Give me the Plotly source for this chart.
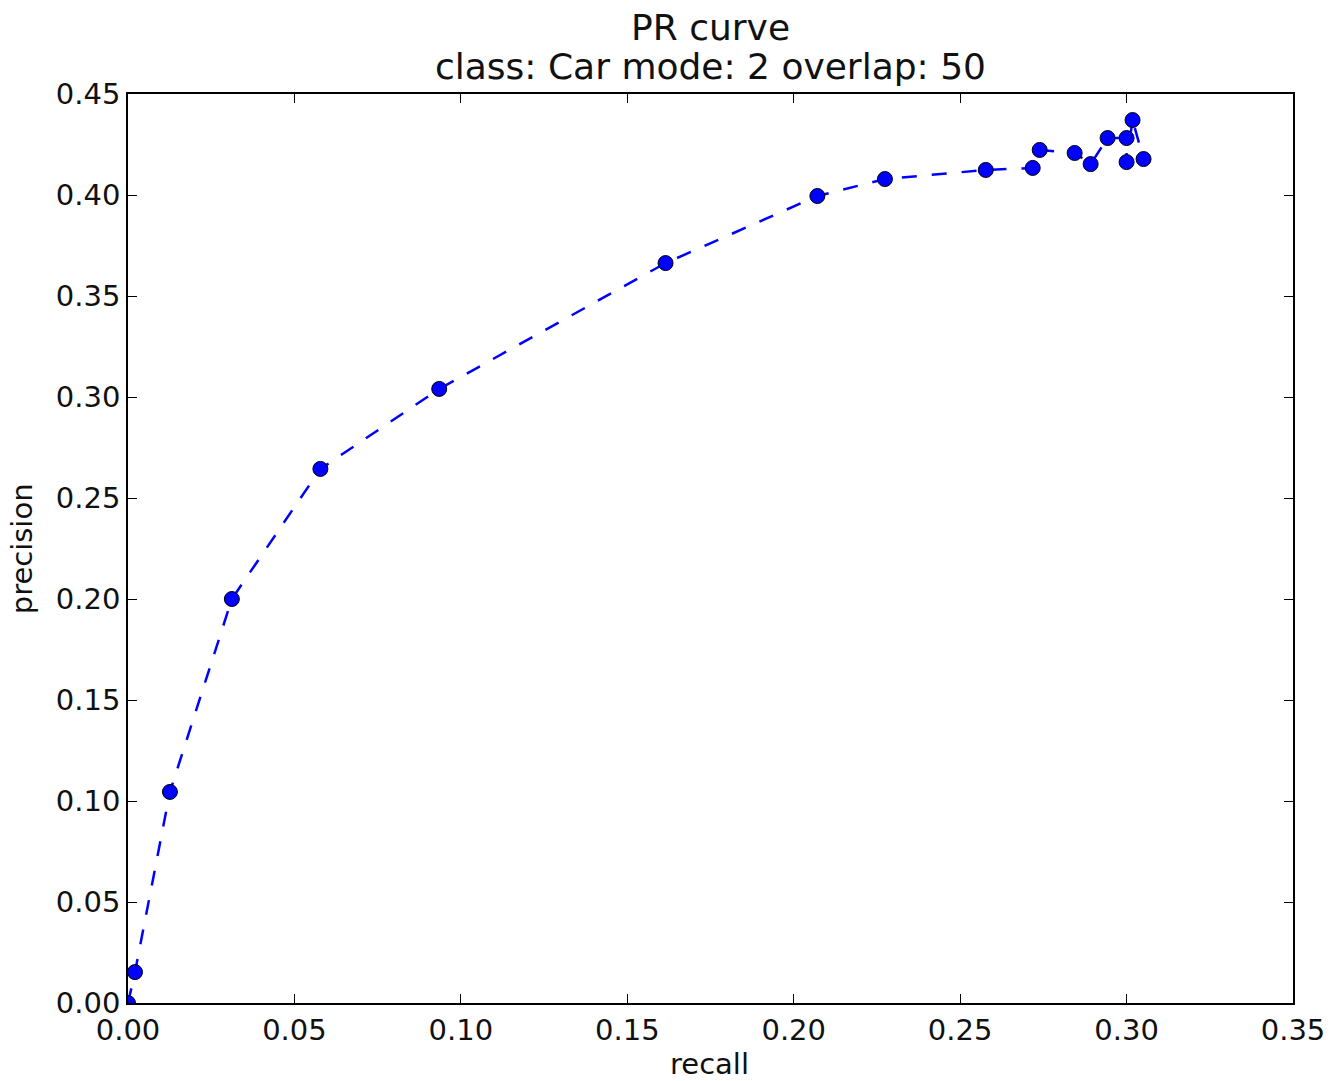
import plotly.graph_objects as go

recall = [0.0, 0.0021, 0.0126, 0.0312, 0.0578, 0.0935, 0.1615, 0.2071, 0.2274,
          0.2577, 0.2718, 0.2739, 0.2844, 0.2892, 0.2943, 0.3000, 0.3000, 0.3018, 0.3051]
precision = [0.0, 0.0153, 0.1045, 0.2000, 0.2644, 0.3040, 0.3663, 0.3995, 0.4079,
             0.4124, 0.4134, 0.4223, 0.4208, 0.4153, 0.4282, 0.4282, 0.4163, 0.4371, 0.4178]

x_ticks = [0.00, 0.05, 0.10, 0.15, 0.20, 0.25, 0.30, 0.35]
y_ticks = [0.00, 0.05, 0.10, 0.15, 0.20, 0.25, 0.30, 0.35, 0.40, 0.45]

FONT = "DejaVu Sans, Liberation Sans, sans-serif"

# plot area in page px: left 128, right 1296, top 94, bottom 1003
W, H = 1337, 1081
L, R, T, B = 128, 41, 94, 78
plot_w = W - L - R
plot_h = H - T - B

fig = go.Figure()
fig.add_trace(go.Scatter(
    x=recall, y=precision, mode="lines+markers",
    line=dict(color="#0000ff", width=2.5, dash="15px,15px"),
    marker=dict(color="#0000ff", size=15, line=dict(color="#000000", width=1)),
    showlegend=False,
))

axis_common = dict(
    showgrid=False, zeroline=False, showline=True, linecolor="#000000", linewidth=1.5,
    mirror="allticks", ticks="inside", ticklen=9, tickwidth=1, tickcolor="#000000",
    tickfont=dict(family=FONT, size=29, color="#111111"),
)

def px_x(page_x):
    return (page_x - L) / plot_w

def px_y(page_y):
    return (H - B - page_y) / plot_h

fig.update_layout(
    width=W, height=H,
    margin=dict(l=L, r=R, t=T, b=B),
    paper_bgcolor="white", plot_bgcolor="white",
    xaxis=dict(range=[0, 0.35], tickvals=x_ticks, ticktext=[f"{v:.2f}" for v in x_ticks],
               **axis_common),
    yaxis=dict(range=[0, 0.45], tickvals=y_ticks, ticktext=[f"{v:.2f}" for v in y_ticks],
               **axis_common),
    annotations=[
        dict(text="PR curve", x=px_x(712), y=px_y(27), xref="paper", yref="paper",
             showarrow=False, xanchor="center", yanchor="middle",
             font=dict(family=FONT, size=36, color="#111111")),
        dict(text="class: Car mode: 2 overlap: 50", x=px_x(712), y=px_y(67), xref="paper",
             yref="paper", showarrow=False, xanchor="center", yanchor="middle",
             font=dict(family=FONT, size=36, color="#111111")),
        dict(text="recall", x=px_x(711), y=px_y(1064), xref="paper", yref="paper",
             showarrow=False, xanchor="center", yanchor="middle",
             font=dict(family=FONT, size=29, color="#111111")),
        dict(text="precision", x=px_x(22), y=px_y(549), xref="paper", yref="paper",
             showarrow=False, xanchor="center", yanchor="middle", textangle=-90,
             font=dict(family=FONT, size=29, color="#111111")),
    ],
)

fig.write_html(
    "out.html",
    config={"responsive": False, "displayModeBar": False},
    post_script="document.body.style.margin='0';document.body.style.overflow='hidden';",
)
